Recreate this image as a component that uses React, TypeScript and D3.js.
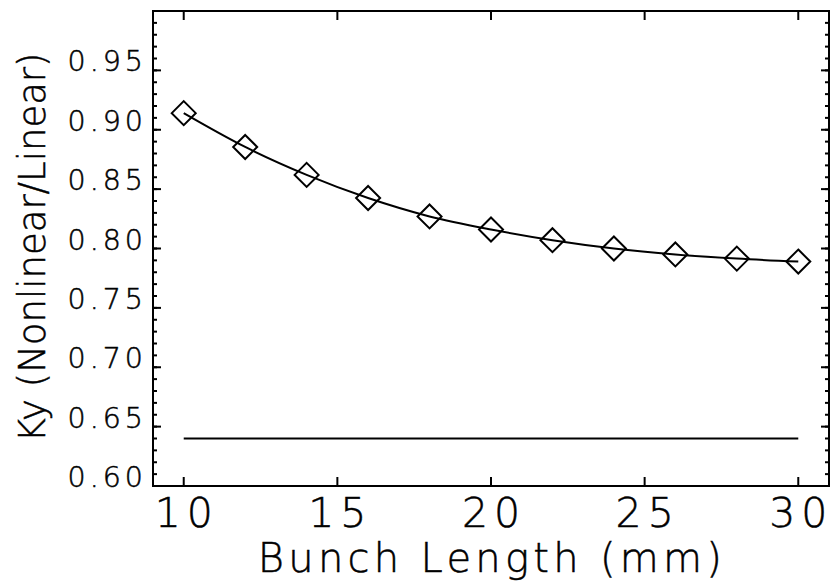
import React from "react";
import * as d3 from "d3";

const bunchLength = [10, 12, 14, 16, 18, 20, 22, 24, 26, 28, 30];
const kyRatio = [0.914, 0.8855, 0.862, 0.8425, 0.827, 0.816, 0.807, 0.8, 0.795, 0.7915, 0.789];
const linearRefX = [10, 30];
const linearRefY = [0.64, 0.64];
const xTicks = [10, 15, 20, 25, 30];
const yTicks = [0.6, 0.65, 0.7, 0.75, 0.8, 0.85, 0.9, 0.95];
const yMinorTicks = d3.range(60, 101).map((v) => v / 100);
const xLabel = "Bunch Length (mm)";
const yLabel = "Ky (Nonlinear/Linear)";

const W = 834;
const H = 582;
const left = 153;
const right = 829;
const top = 11;
const bottom = 486;

const FONT = "'DejaVu Sans', sans-serif";

export default function App() {
  const x = d3.scaleLinear().domain([9, 31]).range([left, right]);
  const y = d3.scaleLinear().domain([0.6, 1.0]).range([bottom, top]);

  const line = d3
    .line<number>()
    .x((_, i) => x(bunchLength[i]))
    .y((d) => y(d))
    .curve(d3.curveMonotoneX);

  const refLine = d3
    .line<number>()
    .x((_, i) => x(linearRefX[i]))
    .y((d) => y(d));

  const r = 12;
  const diamond = (cx: number, cy: number) =>
    `M${cx},${cy - r}L${cx + r},${cy}L${cx},${cy + r}L${cx - r},${cy}Z`;

  const textStyle = {
    fontFamily: FONT,
    fontWeight: 200,
    stroke: "#000",
    strokeWidth: 0.5,
  } as const;

  return (
    <svg
      width={W}
      height={H}
      style={{ position: "absolute", left: 0, top: 0, background: "#fff" }}
    >
      <rect x={0} y={0} width={W} height={H} fill="#fff" />
      {yMinorTicks.map((t, i) => (
        <g key={"m" + i}>
          <line x1={left} x2={left + 4} y1={y(t)} y2={y(t)} stroke="#000" strokeWidth={2} />
          <line x1={right} x2={right - 4} y1={y(t)} y2={y(t)} stroke="#000" strokeWidth={2} />
        </g>
      ))}
      {yTicks.map((t, i) => (
        <g key={"y" + i}>
          <line x1={left} x2={left + 8} y1={y(t)} y2={y(t)} stroke="#000" strokeWidth={2} />
          <line x1={right} x2={right - 8} y1={y(t)} y2={y(t)} stroke="#000" strokeWidth={2} />
          <text
            x={147}
            y={y(t) + 1}
            textAnchor="end"
            fontSize={28.5}
            letterSpacing={4}
            style={textStyle}
          >
            {t.toFixed(2)}
          </text>
        </g>
      ))}
      {xTicks.map((t, i) => (
        <g key={"x" + i}>
          <line x1={x(t)} x2={x(t)} y1={bottom} y2={bottom - 9} stroke="#000" strokeWidth={2} />
          <line x1={x(t)} x2={x(t)} y1={top} y2={top + 9} stroke="#000" strokeWidth={2} />
          <text
            x={x(t) + 3}
            y={527}
            textAnchor="middle"
            fontSize={41}
            letterSpacing={6}
            style={textStyle}
          >
            {String(t)}
          </text>
        </g>
      ))}
      <rect
        x={left}
        y={top}
        width={right - left}
        height={bottom - top}
        fill="none"
        stroke="#000"
        strokeWidth={2}
      />
      <path d={refLine(linearRefY) || ""} fill="none" stroke="#000" strokeWidth={2} />
      <path d={line(kyRatio) || ""} fill="none" stroke="#000" strokeWidth={2} />
      {kyRatio.map((v, i) => (
        <path
          key={"d" + i}
          d={diamond(x(bunchLength[i]), y(v))}
          fill="none"
          stroke="#000"
          strokeWidth={2}
        />
      ))}
      <text
        x={(250 + 730) / 2 + 2}
        y={572}
        textAnchor="middle"
        fontSize={40}
        letterSpacing={4.3}
        style={textStyle}
      >
        {xLabel}
      </text>
      <text
        transform={`translate(45, ${(52 + 443) / 2}) rotate(-90)`}
        textAnchor="middle"
        fontSize={37}
        style={textStyle}
      >
        {yLabel}
      </text>
    </svg>
  );
}
